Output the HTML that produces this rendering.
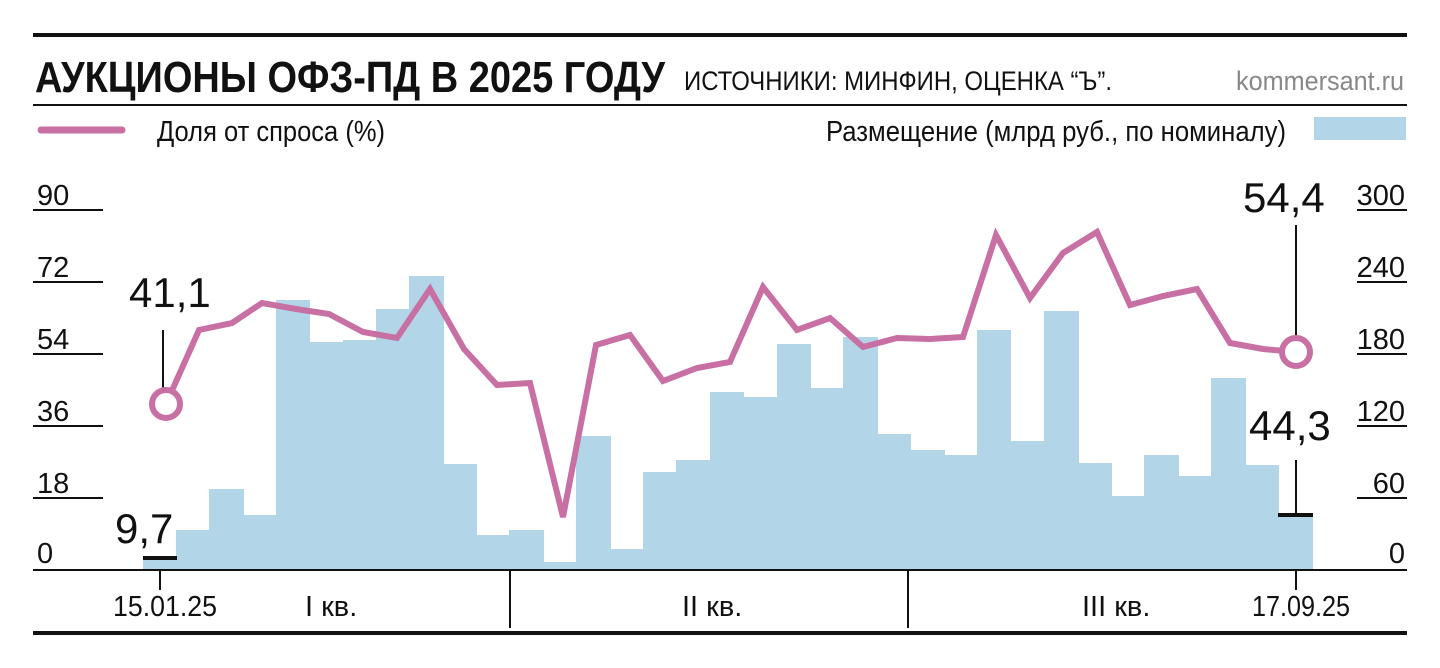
<!DOCTYPE html>
<html><head><meta charset="utf-8"><style>
html,body{margin:0;padding:0;background:#fff}
svg{display:block}
text{font-family:"Liberation Sans",sans-serif;fill:#111}
</style></head><body>
<svg width="1440" height="668" viewBox="0 0 1440 668" xmlns="http://www.w3.org/2000/svg">
<rect x="33" y="33" width="1374" height="4" fill="#111"/>
<text x="35" y="92" font-size="44" font-weight="bold" textLength="630" lengthAdjust="spacingAndGlyphs">АУКЦИОНЫ ОФЗ-ПД В 2025 ГОДУ</text>
<text x="684" y="90" font-size="27" textLength="428" lengthAdjust="spacingAndGlyphs">ИСТОЧНИКИ: МИНФИН, ОЦЕНКА “Ъ”.</text>
<text x="1236" y="90" font-size="27" fill="#888" style="fill:#888" textLength="168" lengthAdjust="spacingAndGlyphs">kommersant.ru</text>
<rect x="33" y="104" width="1374" height="2" fill="#111"/>
<line x1="41" y1="130" x2="122" y2="130" stroke="#c86fa3" stroke-width="7" stroke-linecap="round"/>
<text x="157" y="141" font-size="29" textLength="228" lengthAdjust="spacingAndGlyphs">Доля от спроса (%)</text>
<text x="826" y="141" font-size="29" textLength="460" lengthAdjust="spacingAndGlyphs">Размещение (млрд руб., по номиналу)</text>
<rect x="1314" y="117" width="92" height="23" fill="#b3d5e8"/>
<g fill="#b3d5e8">
<rect x="143" y="558" width="34" height="12"/>
<rect x="176" y="530" width="34" height="40"/>
<rect x="209" y="489" width="35" height="81"/>
<rect x="243" y="515" width="34" height="55"/>
<rect x="276" y="300" width="34" height="270"/>
<rect x="309" y="342" width="35" height="228"/>
<rect x="343" y="340" width="34" height="230"/>
<rect x="376" y="309" width="34" height="261"/>
<rect x="409" y="276" width="35" height="294"/>
<rect x="443" y="464" width="34" height="106"/>
<rect x="476" y="535" width="34" height="35"/>
<rect x="509" y="530" width="35" height="40"/>
<rect x="543" y="562" width="34" height="8"/>
<rect x="576" y="436" width="35" height="134"/>
<rect x="610" y="549" width="34" height="21"/>
<rect x="643" y="472" width="34" height="98"/>
<rect x="676" y="460" width="35" height="110"/>
<rect x="710" y="392" width="34" height="178"/>
<rect x="743" y="397" width="35" height="173"/>
<rect x="777" y="344" width="34" height="226"/>
<rect x="810" y="388" width="34" height="182"/>
<rect x="843" y="337" width="35" height="233"/>
<rect x="877" y="434" width="34" height="136"/>
<rect x="910" y="450" width="35" height="120"/>
<rect x="944" y="455" width="34" height="115"/>
<rect x="977" y="330" width="34" height="240"/>
<rect x="1010" y="441" width="35" height="129"/>
<rect x="1044" y="311" width="35" height="259"/>
<rect x="1078" y="463" width="34" height="107"/>
<rect x="1111" y="496" width="34" height="74"/>
<rect x="1144" y="455" width="35" height="115"/>
<rect x="1178" y="476" width="34" height="94"/>
<rect x="1211" y="378" width="35" height="192"/>
<rect x="1245" y="465" width="34" height="105"/>
<rect x="1278" y="517" width="35" height="53"/>
</g>
<g stroke="#111" stroke-width="2">
<line x1="33" y1="210" x2="103" y2="210"/><line x1="33" y1="282" x2="103" y2="282"/>
<line x1="33" y1="354" x2="103" y2="354"/><line x1="33" y1="426" x2="103" y2="426"/>
<line x1="33" y1="498" x2="103" y2="498"/>
<line x1="1357" y1="210" x2="1407" y2="210"/><line x1="1357" y1="282" x2="1407" y2="282"/>
<line x1="1357" y1="354" x2="1407" y2="354"/><line x1="1357" y1="426" x2="1407" y2="426"/>
<line x1="1357" y1="498" x2="1407" y2="498"/>
<line x1="33" y1="570" x2="1407" y2="570"/>
<line x1="510" y1="570" x2="510" y2="628"/><line x1="908" y1="570" x2="908" y2="628"/>
<line x1="160" y1="570" x2="160" y2="590"/><line x1="1296" y1="570" x2="1296" y2="590"/>
<line x1="163" y1="330" x2="163" y2="392"/><line x1="1296" y1="225" x2="1296" y2="340"/>
<line x1="1296" y1="460" x2="1296" y2="515"/>
</g>
<rect x="143" y="556" width="34" height="4" fill="#111"/>
<rect x="1278" y="513" width="35" height="4" fill="#111"/>
<g font-size="29">
<text x="37" y="205">90</text><text x="37" y="277">72</text><text x="37" y="349">54</text>
<text x="37" y="421">36</text><text x="37" y="493">18</text><text x="37" y="563">0</text>
<text x="1405" y="205" text-anchor="end">300</text><text x="1405" y="277" text-anchor="end">240</text>
<text x="1405" y="349" text-anchor="end">180</text><text x="1405" y="421" text-anchor="end">120</text>
<text x="1405" y="493" text-anchor="end">60</text><text x="1405" y="563" text-anchor="end">0</text>
<text x="113" y="616" textLength="104" lengthAdjust="spacingAndGlyphs">15.01.25</text>
<text x="305" y="616">I кв.</text>
<text x="682" y="616">II кв.</text>
<text x="1082" y="616">III кв.</text>
<text x="1252" y="616" textLength="98" lengthAdjust="spacingAndGlyphs">17.09.25</text>
</g>
<g font-size="42">
<text x="129" y="307">41,1</text>
<text x="115" y="543">9,7</text>
<text x="1243" y="212">54,4</text>
<text x="1249" y="440">44,3</text>
</g>
<polyline fill="none" stroke="#c86fa3" stroke-width="6" stroke-linejoin="miter" points="166,404 199,330 232,323 262,303 296,309 329,314 363,332 397,338 430,289 464,349 497,385 530,383 563,517 596,345 630,335 663,381 697,368 730,362 763,287 797,330 830,318 863,347 897,338 930,339 963,337 996,235 1030,298 1063,253 1097,232 1130,305 1163,296 1197,289 1230,343 1263,349 1296,352"/>
<circle cx="166" cy="404" r="14" fill="#fff" stroke="#c86fa3" stroke-width="6"/>
<circle cx="1296" cy="352" r="14" fill="#fff" stroke="#c86fa3" stroke-width="6"/>
<rect x="33" y="631" width="1374" height="4" fill="#111"/>
</svg>
</body></html>
